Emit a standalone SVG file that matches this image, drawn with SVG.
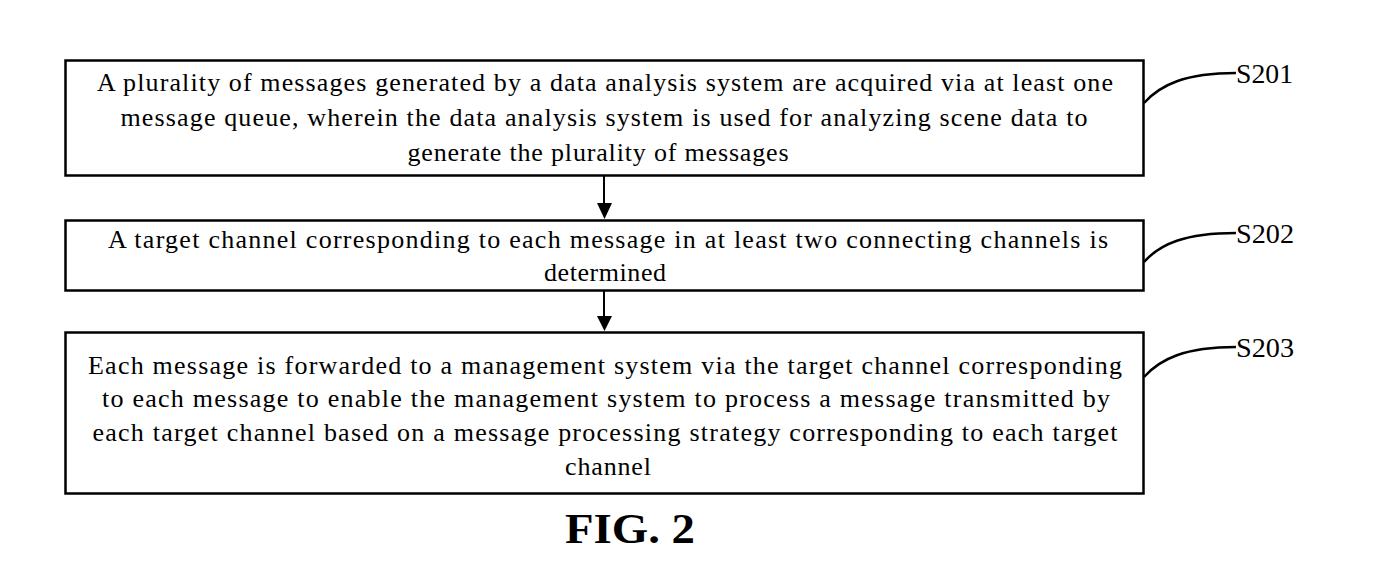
<svg xmlns="http://www.w3.org/2000/svg" width="1382" height="581" viewBox="0 0 1382 581">
<style>
.box{fill:#fff;stroke:#000;stroke-width:2.5}
.t{font-family:"Liberation Serif","Times New Roman",serif;font-size:26px;fill:#000;text-anchor:middle}
.lbl{font-family:"Liberation Serif","Times New Roman",serif;font-size:27px;fill:#000}
.lead{fill:none;stroke:#000;stroke-width:2.5}
.shaft{stroke:#000;stroke-width:2}
</style>
<rect width="1382" height="581" fill="#fff"/>
<g id="node-s201">
<rect class="box" x="65.5" y="60.5" width="1078" height="115"/>
<text class="t" x="605" y="91" textLength="1016" lengthAdjust="spacing">A plurality of messages generated by a data analysis system are acquired via at least one</text>
<text class="t" x="604" y="126" textLength="967" lengthAdjust="spacing">message queue, wherein the data analysis system is used for analyzing scene data to</text>
<text class="t" x="598" y="161" textLength="381" lengthAdjust="spacing">generate the plurality of messages</text>
</g>
<g id="node-s202">
<rect class="box" x="65.5" y="220.5" width="1078" height="70"/>
<text class="t" x="608" y="248" textLength="1000" lengthAdjust="spacing">A target channel corresponding to each message in at least two connecting channels is</text>
<text class="t" x="605" y="281" textLength="122" lengthAdjust="spacing">determined</text>
</g>
<g id="node-s203">
<rect class="box" x="65.5" y="332.5" width="1078" height="161"/>
<text class="t" x="605" y="374" textLength="1034" lengthAdjust="spacing">Each message is forwarded to a management system via the target channel corresponding</text>
<text class="t" x="606" y="407" textLength="1008" lengthAdjust="spacing">to each message to enable the management system to process a message transmitted by</text>
<text class="t" x="605" y="441" textLength="1025" lengthAdjust="spacing">each target channel based on a message processing strategy corresponding to each target</text>
<text class="t" x="608" y="475" textLength="86" lengthAdjust="spacing">channel</text>
</g>
<g id="connectors">
<line class="shaft" x1="604" y1="176" x2="604" y2="205"/>
<polygon points="597,203 612,203 604.5,219" fill="#000"/>
<line class="shaft" x1="604" y1="291" x2="604" y2="318"/>
<polygon points="597,316 612,316 604.5,331" fill="#000"/>
<path class="lead" d="M1144,103 C1160,85 1185,73 1236,73"/>
<path class="lead" d="M1144,262 C1160,244 1185,233 1236,233"/>
<path class="lead" d="M1144,377 C1160,359 1185,347 1236,347"/>
</g>
<g id="labels">
<text class="lbl" x="1236" y="83" textLength="57" lengthAdjust="spacingAndGlyphs">S201</text>
<text class="lbl" x="1236" y="243" textLength="58" lengthAdjust="spacingAndGlyphs">S202</text>
<text class="lbl" x="1236" y="357" textLength="58" lengthAdjust="spacingAndGlyphs">S203</text>
</g>
<text x="565" y="543" font-family="Liberation Serif, 'Times New Roman', serif" font-weight="bold" font-size="42" textLength="130" lengthAdjust="spacingAndGlyphs">FIG. 2</text>
</svg>
